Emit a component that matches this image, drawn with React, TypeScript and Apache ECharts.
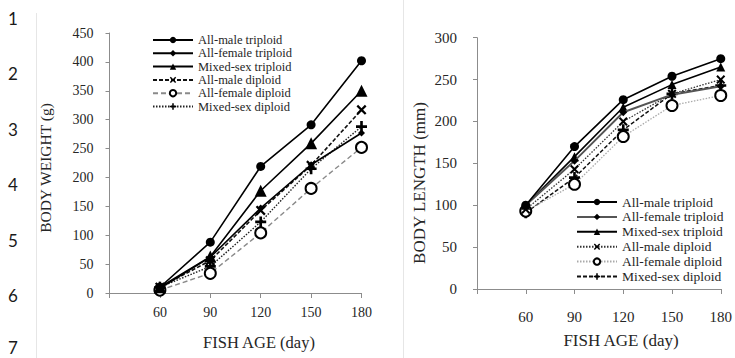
import React, { useEffect, useRef } from "react";
import * as echarts from "echarts";

// Fish age (days) at each sampling point
const ages = [60, 90, 120, 150, 180];

const groupNames = [
  "All-male triploid",
  "All-female triploid",
  "Mixed-sex triploid",
  "All-male diploid",
  "All-female diploid",
  "Mixed-sex diploid",
];

// Body weight (g)
const weightAllMaleTriploid = [10, 88, 219, 291, 402];
const weightAllFemaleTriploid = [8, 62, 147, 222, 277];
const weightMixedSexTriploid = [10, 63, 177, 259, 350];
const weightAllMaleDiploid = [10, 56, 143, 221, 317];
const weightAllFemaleDiploid = [5, 34, 104, 181, 252];
const weightMixedSexDiploid = [10, 46, 123, 215, 288];

// Body length (mm)
const lengthAllMaleTriploid = [100, 170, 226, 254, 275];
const lengthAllFemaleTriploid = [100, 153, 211, 232, 242];
const lengthMixedSexTriploid = [100, 158, 217, 244, 265];
const lengthAllMaleDiploid = [95, 143, 200, 233, 250];
const lengthAllFemaleDiploid = [93, 125, 182, 219, 231];
const lengthMixedSexDiploid = [91, 133, 190, 233, 243];

// Line numbers printed down the page margin
const lineNumbers = ["1", "2", "3", "4", "5", "6", "7"];

const SERIF = "'Liberation Serif', 'Times New Roman', serif";
const CROSS = "path://M0,1.6L1.6,0L5,3.4L8.4,0L10,1.6L6.6,5L10,8.4L8.4,10L5,6.6L1.6,10L0,8.4L3.4,5Z";
const PLUS = "path://M3.8,0H6.2V3.8H10V6.2H6.2V10H3.8V6.2H0V3.8H3.8Z";

type Look = {
  symbol: string;
  size: number;
  color: string;
  width: number;
  type: any;
  hollow?: boolean;
};

const weightLooks: Look[] = [
  { symbol: "circle", size: 9, color: "#000", width: 1.6, type: "solid" },
  { symbol: "diamond", size: 7, color: "#000", width: 1.6, type: "solid" },
  { symbol: "triangle", size: 12, color: "#000", width: 1.6, type: "solid" },
  { symbol: CROSS, size: 10, color: "#111", width: 1.6, type: [4, 2] },
  { symbol: "emptyCircle", size: 11, color: "#8a8a8a", width: 1.4, type: [5, 3], hollow: true },
  { symbol: PLUS, size: 11, color: "#222", width: 1.4, type: [1.5, 1.5] },
];

const lengthLooks: Look[] = [
  { symbol: "circle", size: 9, color: "#000", width: 1.6, type: "solid" },
  { symbol: "diamond", size: 8, color: "#555", width: 2, type: "solid" },
  { symbol: "triangle", size: 9, color: "#000", width: 1.6, type: "solid" },
  { symbol: CROSS, size: 9, color: "#333", width: 1.3, type: [1.5, 1.5] },
  { symbol: "emptyCircle", size: 11, color: "#aaa", width: 1.3, type: [1.5, 1.5], hollow: true },
  { symbol: PLUS, size: 11, color: "#111", width: 1.5, type: [4, 2] },
];

function makeSeries(values: number[][], looks: Look[]) {
  return values.map((vals, i) => {
    const lk = looks[i];
    return {
      name: groupNames[i],
      type: "line",
      data: ages.map((a, j) => [a, vals[j]]),
      symbol: lk.symbol,
      symbolSize: lk.size,
      z: 10 - i,
      lineStyle: { color: lk.color, width: lk.width, type: lk.type },
      itemStyle: lk.hollow
        ? { color: "#000", borderColor: "#000", borderWidth: 2.4 }
        : { color: "#000", borderWidth: 0 },
      emphasis: { disabled: true },
    };
  });
}

function axes(yMax: number, yInterval: number, fontSize: number, xMargin: number, yMargin: number) {
  const axisLine = { show: true, lineStyle: { color: "#8c8c8c", width: 1 } };
  return {
    xAxis: {
      type: "value",
      min: 30,
      max: 180,
      interval: 30,
      axisLine,
      axisTick: { show: true, length: 5, lineStyle: { color: "#8c8c8c" } },
      splitLine: { show: false },
      axisLabel: {
        margin: xMargin,
        fontFamily: SERIF,
        fontSize,
        color: "#262626",
        formatter: (v: number) => (v === 30 ? "" : String(v)),
      },
    },
    yAxis: {
      type: "value",
      min: 0,
      max: yMax,
      interval: yInterval,
      axisLine,
      axisTick: { show: true, length: 4, lineStyle: { color: "#8c8c8c" } },
      splitLine: { show: false },
      axisLabel: { margin: yMargin, fontFamily: SERIF, fontSize, color: "#262626" },
    },
  };
}

function legend(left: number, top: number, fontSize: number, lineHeight: number, gap: number) {
  return {
    orient: "vertical",
    left,
    top,
    padding: 0,
    itemWidth: 40,
    itemHeight: 8,
    itemGap: gap,
    selectedMode: false,
    textStyle: { fontFamily: SERIF, fontSize, lineHeight, color: "#262626" },
    data: groupNames,
  };
}

function vText(text: string, x: number, y: number, fontSize: number) {
  return {
    type: "text",
    x,
    y,
    rotation: Math.PI / 2,
    style: { text, x: 0, y: 0, font: `${fontSize}px ${SERIF}`, fill: "#262626", align: "center", verticalAlign: "middle" },
  };
}

function hText(text: string, x: number, y: number, fontSize: number) {
  return {
    type: "text",
    style: { text, x, y, font: `${fontSize}px ${SERIF}`, fill: "#262626", align: "center", verticalAlign: "middle" },
  };
}

export default function App() {
  const leftRef = useRef<HTMLDivElement>(null);
  const rightRef = useRef<HTMLDivElement>(null);

  useEffect(() => {
    document.body.style.margin = "0";
    const left = echarts.init(leftRef.current!, null, { renderer: "svg" });
    const right = echarts.init(rightRef.current!, null, { renderer: "svg" });

    // the last number sits right at the bottom edge, keep it inside the canvas
    const lineNumberTexts = lineNumbers.map((t, i) => ({
      type: "text",
      style: {
        text: t,
        x: 13,
        y: Math.min(18 + i * 55.5, 347),
        font: "17px Lato, 'Open Sans', sans-serif",
        fill: "#1a1a1a",
        align: "center",
        verticalAlign: "middle",
      },
    }));

    left.setOption({
      animation: false,
      backgroundColor: "#fff",
      grid: { left: 109.5, top: 33, width: 252, height: 260 },
      ...axes(450, 50, 14, 12, 16),
      legend: legend(152, 33.5, 12.5, 13, 0.3),
      series: makeSeries(
        [
          weightAllMaleTriploid,
          weightAllFemaleTriploid,
          weightMixedSexTriploid,
          weightAllMaleDiploid,
          weightAllFemaleDiploid,
          weightMixedSexDiploid,
        ],
        weightLooks
      ),
      graphic: [
        { type: "line", shape: { x1: 36.5, y1: 13, x2: 36.5, y2: 358 }, style: { stroke: "#e6e6e6", lineWidth: 1 } },
        { type: "line", shape: { x1: 403.5, y1: 0, x2: 403.5, y2: 358 }, style: { stroke: "#e6e6e6", lineWidth: 1 } },
        ...lineNumberTexts,
        vText("BODY WEIGHT (g)", 45, 168, 15.5),
        hText("FISH AGE (day)", 259, 342, 16.5),
      ],
    });

    right.setOption({
      animation: false,
      backgroundColor: "#fff",
      grid: { left: 72, top: 37.7, width: 244, height: 251.3 },
      ...axes(300, 50, 15, 20, 20),
      legend: legend(171, 195, 13.5, 14, 0.9),
      series: makeSeries(
        [
          lengthAllMaleTriploid,
          lengthAllFemaleTriploid,
          lengthMixedSexTriploid,
          lengthAllMaleDiploid,
          lengthAllFemaleDiploid,
          lengthMixedSexDiploid,
        ],
        lengthLooks
      ),
      graphic: [vText("BODY LENGTH (mm)", 14, 183, 17), hText("FISH AGE (day)", 216, 340, 17)],
    });

    return () => {
      left.dispose();
      right.dispose();
    };
  }, []);

  return (
    <div style={{ position: "relative", width: 735, height: 358, background: "#fff" }}>
      <div ref={leftRef} style={{ position: "absolute", left: 0, top: 0, width: 405, height: 358 }} />
      <div ref={rightRef} style={{ position: "absolute", left: 405, top: 0, width: 330, height: 358 }} />
    </div>
  );
}
